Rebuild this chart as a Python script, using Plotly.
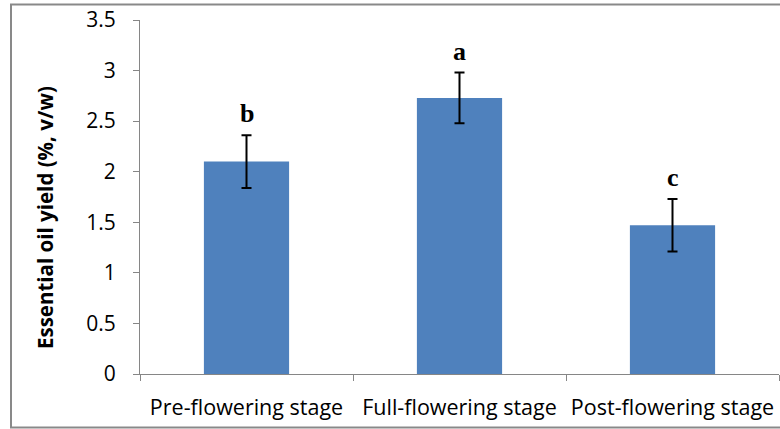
import plotly.graph_objects as go

stages = ["Pre-flowering stage", "Full-flowering stage", "Post-flowering stage"]
yield_vals = [2.10, 2.73, 1.47]
yield_err = [0.26, 0.25, 0.26]
letters = ["b", "a", "c"]

W, H = 780, 429
L, R, T, B = 140, 1, 20, 55
pw, ph = W - L - R, H - T - B

fig = go.Figure()
fig.add_trace(go.Bar(
    x=stages, y=yield_vals,
    marker=dict(color="#4F81BD", line=dict(width=0)),
    error_y=dict(type="data", array=yield_err, visible=True,
                 color="black", thickness=2, width=5),
    width=0.4,
))

for s, v, e, l in zip(stages, yield_vals, yield_err, letters):
    fig.add_annotation(x=s, y=v + e, text="<b>" + l + "</b>", showarrow=False,
                       yanchor="bottom", yshift=5,
                       font=dict(family="Liberation Serif", size=26, color="black"))

fig.add_annotation(xref="paper", yref="paper",
                   x=(45 - L) / pw, y=(H - B - 218) / ph,
                   text="<b>Essential oil yield (%, v/w)</b>", textangle=-90,
                   showarrow=False, xanchor="center", yanchor="middle",
                   font=dict(family="Open Sans", size=20.5, color="black"))

# outer chart border
fig.add_shape(type="rect", xref="paper", yref="paper",
              x0=(11 - L) / pw, x1=(782 - L) / pw,
              y0=(H - B - 427.5) / ph, y1=(H - B - 4.5) / ph,
              line=dict(color="#898989", width=2), fillcolor="rgba(0,0,0,0)",
              layer="below")

fig.update_layout(
    width=W, height=H,
    margin=dict(l=L, r=R, t=T, b=B),
    paper_bgcolor="white", plot_bgcolor="white",
    showlegend=False,
    font=dict(family="Open Sans", size=20, color="black"),
)
fig.update_yaxes(range=[0, 3.5], dtick=0.5, showgrid=False, zeroline=False,
                 showline=True, linecolor="#868686", linewidth=1,
                 ticks="outside", ticklen=6, tickcolor="#868686",
                 ticklabelstandoff=13,
                 tickfont=dict(family="Open Sans", size=21, color="black"))
fig.update_xaxes(showgrid=False, showline=True, linecolor="#868686", linewidth=1,
                 ticks="outside", ticklen=6, tickcolor="#868686",
                 tickson="boundaries", ticklabelstandoff=14,
                 tickfont=dict(family="Open Sans", size=21.5, color="black"))

fig.write_html("out.html")
